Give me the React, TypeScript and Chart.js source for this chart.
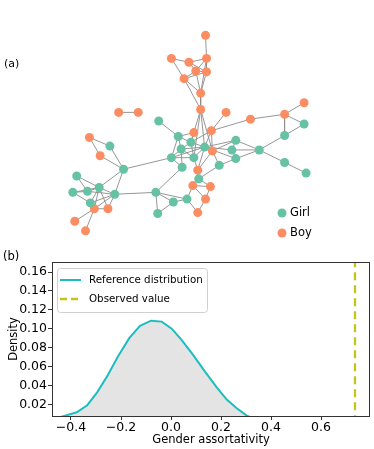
import React, { useEffect, useRef } from "react";
import { Chart, registerables } from "chart.js";

Chart.register(...registerables);

const FONT = "'DejaVu Sans', 'Liberation Sans', sans-serif";

// ---------- Panel (a): friendship network (layout coordinates) ----------
const boyX = [206, 171, 189, 207, 196, 207, 184, 201, 201, 227, 117, 137, 307, 252, 287, 194, 212, 213, 198, 193, 211, 206, 198, 92, 106, 72, 83, 87, 98];
const boyY = [32, 56, 60, 56, 69, 70, 77, 92, 109, 112, 112, 112, 102, 119, 114, 133, 131, 152, 172, 188, 189, 202, 216, 212, 212, 225, 235, 138, 157];
const girlX = [158, 307, 287, 261, 237, 233, 237, 287, 309, 178, 191, 205, 181, 171, 194, 220, 182, 199, 155, 187, 173, 157, 122, 74, 97, 70, 85, 113, 88, 108];
const girlY = [121, 124, 136, 151, 141, 151, 160, 164, 175, 137, 143, 148, 150, 159, 159, 167, 169, 181, 195, 202, 205, 217, 171, 178, 190, 195, 194, 197, 206, 147];

const edges = [
  "b1-b4", "b2-b3", "b2-b7", "b3-b4", "b3-b5", "b3-b6", "b4-b5", "b4-b6", "b5-b6", "b5-b7", "b6-b7",
  "b5-b8", "b6-b8", "b7-b8", "b8-b9", "b7-b9", "b4-b8",
  "b9-g12", "b9-b18", "b9-g11", "b9-g15",
  "b10-b17", "b17-b14", "b14-b15", "b15-b13", "b15-g2", "b15-g3", "g2-g3", "g3-g4",
  "g4-g5", "g4-g6", "g4-g7", "g4-g8", "g8-g9", "g5-g6", "g6-g7", "g5-g12", "g6-g12", "g7-g12", "g7-g16", "g5-b18",
  "b11-b12",
  "g1-g10", "b16-g10", "b16-g11", "b17-g12", "b17-b18", "b17-g11",
  "g10-g11", "g10-g13", "g10-g14", "g11-g12", "g11-g13", "g11-g15", "g12-g13", "g12-g15", "g12-g14",
  "g13-g15", "g14-g15", "g13-g14", "g14-g17", "g13-g17", "g14-g23",
  "g17-g19", "b18-g16", "b18-g12", "g16-g18", "b18-b19", "g15-b19", "g12-b19", "b19-g18",
  "g18-b20", "g18-b21", "b20-b21", "b20-b22", "b21-b22", "b20-g20", "g20-g21", "g19-g21", "g19-g22",
  "g21-g22", "g20-b23", "b22-b23", "g19-g20",
  "g19-g28", "g23-g28", "g23-g25", "g23-g30", "b28-g30", "b28-b29", "b29-g23",
  "g24-g25", "g24-g27", "g26-g27", "g26-g29", "g27-g25", "g25-g28", "g27-g28", "g25-g29",
  "g29-b24", "g25-b24", "g25-b25", "g28-b24", "g28-b25", "b24-b25", "b24-b26", "b24-b27", "g29-g28", "g26-g25",
];

const groupLabels = ["Girl", "Boy"];
const girlColor = "#66c2a5";
const boyColor = "#fc8d62";

// ---------- Panel (b): density of gender assortativity ----------
const assortX = [-0.46, -0.424, -0.377, -0.335, -0.297, -0.257, -0.211, -0.167, -0.124, -0.08, -0.037, 0.003, 0.043, 0.089, 0.136, 0.183, 0.223, 0.263, 0.303, 0.34];
const densityY = [0.005, 0.008, 0.0115, 0.019, 0.032, 0.049, 0.071, 0.09, 0.103, 0.1085, 0.1075, 0.1, 0.088, 0.072, 0.0545, 0.038, 0.025, 0.0158, 0.008, 0.004];
const observedValue = 0.736;
const xTicks = [-0.4, -0.2, 0.0, 0.2, 0.4, 0.6];
const yTicks = [0.02, 0.04, 0.06, 0.08, 0.1, 0.12, 0.14, 0.16];
const seriesLabels = ["Reference distribution", "Observed value"];
const curveColor = "#1dbdbf";
const observedColor = "#c4c41a";

function nodePos(id: string) {
  const k = parseInt(id.slice(1), 10) - 1;
  return id[0] === "b" ? { x: boyX[k], y: boyY[k] } : { x: girlX[k], y: girlY[k] };
}

const panelAPlugin = {
  id: "panelA",
  afterDraw(chart: any) {
    const ctx = chart.ctx;
    ctx.save();
    ctx.fillStyle = "#000";
    ctx.font = `11px ${FONT}`;
    ctx.textBaseline = "middle";
    ctx.textAlign = "left";
    ctx.fillText("(a)", 4, 64);
    const colors = [girlColor, boyColor];
    const ys = [213, 233];
    groupLabels.forEach((lab, i) => {
      ctx.beginPath();
      ctx.fillStyle = colors[i];
      ctx.arc(282, ys[i], 4.5, 0, Math.PI * 2);
      ctx.fill();
      ctx.fillStyle = "#000";
      ctx.font = `11.5px ${FONT}`;
      ctx.fillText(lab, 290, ys[i] + 0.5);
    });
    ctx.restore();
  },
};

const panelBPlugin = {
  id: "panelB",
  afterDraw(chart: any) {
    const ctx = chart.ctx;
    const { left, top, right, bottom } = chart.chartArea;
    ctx.save();
    ctx.strokeStyle = "#333";
    ctx.lineWidth = 1;
    ctx.strokeRect(left + 0.5, top + 0.5, right - left - 1, bottom - top);
    // panel label
    ctx.fillStyle = "#000";
    ctx.font = `11.5px ${FONT}`;
    ctx.textBaseline = "middle";
    ctx.textAlign = "left";
    ctx.fillText("(b)", 3, 12);
    // legend
    ctx.beginPath();
    if (ctx.roundRect) ctx.roundRect(57.5, 23.5, 150, 44, 3);
    else ctx.rect(57.5, 23.5, 150, 44);
    ctx.fillStyle = "rgba(255,255,255,0.85)";
    ctx.fill();
    ctx.strokeStyle = "#d0d0d0";
    ctx.lineWidth = 1;
    ctx.stroke();
    const rows = [35, 54];
    ctx.lineWidth = 2;
    ctx.strokeStyle = curveColor;
    ctx.setLineDash([]);
    ctx.beginPath();
    ctx.moveTo(60, rows[0]);
    ctx.lineTo(81, rows[0]);
    ctx.stroke();
    ctx.strokeStyle = observedColor;
    ctx.lineWidth = 2.3;
    ctx.setLineDash([7, 4]);
    ctx.beginPath();
    ctx.moveTo(60, rows[1]);
    ctx.lineTo(81, rows[1]);
    ctx.stroke();
    ctx.setLineDash([]);
    ctx.fillStyle = "#000";
    ctx.font = `10.3px ${FONT}`;
    seriesLabels.forEach((lab, i) => ctx.fillText(lab, 89, rows[i] + 0.5));
    ctx.restore();
  },
};

const fmtTick = (v: number, d: number) => {
  const s = Number(v).toFixed(d);
  return s.startsWith("-") ? "\u2212" + s.slice(1) : s;
};

export default function App() {
  const refA = useRef<HTMLCanvasElement | null>(null);
  const refB = useRef<HTMLCanvasElement | null>(null);

  useEffect(() => {
    const edgeData: { x: number; y: number }[] = [];
    edges.forEach((e) => {
      const [a, b] = e.split("-");
      edgeData.push(nodePos(a), nodePos(b), { x: NaN, y: NaN });
    });

    const chartA = new Chart(refA.current as HTMLCanvasElement, {
      type: "scatter",
      data: {
        datasets: [
          {
            label: groupLabels[0],
            data: girlX.map((x, i) => ({ x, y: girlY[i] })),
            backgroundColor: girlColor,
            borderWidth: 0,
            pointRadius: 4.5,
            order: 0,
          },
          {
            label: groupLabels[1],
            data: boyX.map((x, i) => ({ x, y: boyY[i] })),
            backgroundColor: boyColor,
            borderWidth: 0,
            pointRadius: 4.5,
            order: 1,
          },
          {
            label: "edges",
            data: edgeData,
            showLine: true,
            spanGaps: false,
            pointRadius: 0,
            borderColor: "rgba(140,140,140,0.9)",
            borderWidth: 1,
            order: 5,
          } as any,
        ],
      },
      options: {
        responsive: false,
        animation: false,
        events: [],
        layout: { padding: 0 },
        scales: {
          x: { type: "linear", display: false, min: 0, max: 374 },
          y: { type: "linear", display: false, min: 0, max: 245, reverse: true },
        },
        plugins: { legend: { display: false }, tooltip: { enabled: false } },
      },
      plugins: [panelAPlugin],
    });

    const chartB = new Chart(refB.current as HTMLCanvasElement, {
      type: "line",
      data: {
        datasets: [
          {
            label: seriesLabels[0],
            data: assortX.map((x, i) => ({ x, y: densityY[i] })),
            borderColor: curveColor,
            borderWidth: 2,
            backgroundColor: "#e4e4e4",
            fill: "start",
            pointRadius: 0,
            tension: 0,
            order: 1,
          },
          {
            label: seriesLabels[1],
            data: [
              { x: observedValue, y: 0 },
              { x: observedValue, y: 0.2 },
            ],
            borderColor: observedColor,
            borderWidth: 2.3,
            borderDash: [8, 5],
            pointRadius: 0,
            fill: false,
            order: 0,
          },
        ],
      },
      options: {
        responsive: false,
        animation: false,
        events: [],
        layout: { padding: { top: 17, right: 4, left: 0, bottom: 0 } },
        scales: {
          x: {
            type: "linear",
            min: -0.476,
            max: 0.796,
            afterBuildTicks: (scale: any) => {
              scale.ticks = xTicks.map((v) => ({ value: v }));
            },
            afterFit: (scale: any) => {
              scale.height = 33;
            },
            ticks: {
              callback: (v: any) => fmtTick(v, 1),
              color: "#000",
              font: { family: FONT, size: 12.5 },
              padding: 0,
              maxRotation: 0,
              autoSkip: false,
            },
            grid: { drawOnChartArea: false, drawTicks: true, tickLength: 4, color: "#333" },
            border: { display: false },
            title: {
              display: true,
              text: "Gender assortativity",
              color: "#000",
              font: { family: FONT, size: 11.5 },
              padding: { top: 0, bottom: 2 },
            },
          },
          y: {
            type: "linear",
            min: 0.0076,
            max: 0.1706,
            afterBuildTicks: (scale: any) => {
              scale.ticks = yTicks.map((v) => ({ value: v }));
            },
            afterFit: (scale: any) => {
              scale.width = 52;
            },
            ticks: {
              callback: (v: any) => fmtTick(v, 2),
              color: "#000",
              font: { family: FONT, size: 12.5 },
              padding: 1,
              autoSkip: false,
            },
            grid: { drawOnChartArea: false, drawTicks: true, tickLength: 4, color: "#333" },
            border: { display: false },
            title: {
              display: true,
              text: "Density",
              color: "#000",
              font: { family: FONT, size: 11.5 },
              padding: { top: 7, bottom: 0 },
            },
          },
        },
        plugins: { legend: { display: false }, tooltip: { enabled: false } },
      },
      plugins: [panelBPlugin],
    });

    return () => {
      chartA.destroy();
      chartB.destroy();
    };
  }, []);

  return (
    <div style={{ position: "absolute", left: 0, top: 0, width: 374, height: 449, background: "#fff" }}>
      <canvas ref={refA} width={374} height={245} style={{ position: "absolute", left: 0, top: 0, display: "block" }} />
      <canvas ref={refB} width={374} height={204} style={{ position: "absolute", left: 0, top: 245, display: "block" }} />
    </div>
  );
}
